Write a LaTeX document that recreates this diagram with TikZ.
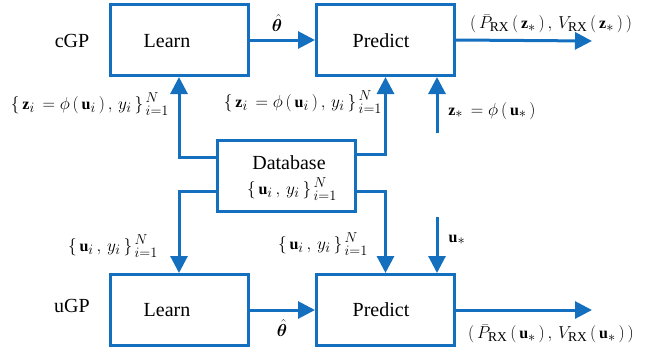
\documentclass[tikz,border=0pt]{standalone}
\usepackage{amsmath,bm}
\usepackage{fontspec}
\setmainfont{Liberation Serif}
\usetikzlibrary{arrows.meta}
\DeclareMathSizes{16}{16}{13.5}{11}
\definecolor{mblue}{RGB}{20,112,190}
\newcommand{\gp}{\mkern3mu}
\tikzset{
  box/.style={draw=mblue,line width=3pt,minimum width=138pt,minimum height=71pt,inner sep=0pt},
  word/.style={font=\fontsize{20}{24}\selectfont,inner sep=0pt},
  lab/.style={font=\fontsize{16}{19}\selectfont,inner sep=0pt},
  conn/.style={draw=mblue,line width=3pt,-{Triangle[length=17pt,width=17pt]}}
}
\begin{document}
\begin{tikzpicture}[x=1pt,y=-1pt]
\useasboundingbox (0,0) rectangle (657,354);
% boxes
\node[box] (l1) at (179,40) {};
\node[box] (p1) at (385.5,40) {};
\node[box] (db) at (286,175.5) {};
\node[box] (l2) at (179,310) {};
\node[box] (p2) at (385.5,310) {};
% box texts
\node[word] (tl1) at (167,41) {Learn};
\node[word] (tp1) at (381,41) {Predict};
\node[word] (tdb) at (289,163) {Database};
\node[lab] (tdb2) at (292,189) {$\{\gp\mathbf{u}_{i}\gp,\gp y_{i}\gp\}_{\gp i=1}^{\gp N}$};
\node[word] (tl2) at (167,310) {Learn};
\node[word] (tp2) at (381,310) {Predict};
\node[word] (cgp) at (72,41) {cGP};
\node[word] (ugp) at (72,306) {uGP};
% free ends
\coordinate (o1) at (592,41);
\coordinate (o2) at (592,310);
\coordinate (zs) at (437,133);
\coordinate (us) at (437,217);
% connectors
\draw[conn] (l1.east) -- (p1.west);
\draw[conn] (p1.east) -- (o1);
\draw[conn] ([yshift=18pt]db.west) -| (l1.south);
\draw[conn] ([yshift=21pt]db.east) -| (p1.south);
\draw[conn] (zs) -- (zs |- p1.south);
\draw[conn] ([yshift=-16pt]db.west) -| (l2.north);
\draw[conn] ([yshift=-16pt]db.east) -| (p2.north);
\draw[conn] (us) -- (us |- p2.north);
\draw[conn] (l2.east) -- (p2.west);
\draw[conn] (p2.east) -- (o2);
% labels
\node[lab] (th1) at (277,23) {$\hat{\bm\theta}$};
\node[lab] (out1) at (551,24) {$(\gp\bar{P}_{\mathrm{RX}}\gp(\gp\mathbf{z}_*\gp)\gp,\gp V_{\mathrm{RX}}\gp(\gp\mathbf{z}_*\gp)\gp)$};
\node[lab] (zl) at (90,104) {$\{\gp\mathbf{z}_{i}\gp=\phi\gp(\gp\mathbf{u}_{i}\gp)\gp,\gp y_{i}\gp\}_{\gp i=1}^{\gp N}$};
\node[lab] (zr) at (303,102) {$\{\gp\mathbf{z}_{i}\gp=\phi\gp(\gp\mathbf{u}_{i}\gp)\gp,\gp y_{i}\gp\}_{\gp i=1}^{\gp N}$};
\node[lab] (zsl) at (492,111) {$\mathbf{z}_*\gp=\phi\gp(\gp\mathbf{u}_*\gp)$};
\node[lab] (ul) at (113,246) {$\{\gp\mathbf{u}_{i}\gp,\gp y_{i}\gp\}_{\gp i=1}^{\gp N}$};
\node[lab] (ur) at (323,244) {$\{\gp\mathbf{u}_{i}\gp,\gp y_{i}\gp\}_{\gp i=1}^{\gp N}$};
\node[lab] (usl) at (457,240) {$\mathbf{u}_*$};
\node[lab] (th2) at (282,328) {$\hat{\bm\theta}$};
\node[lab] (out2) at (551,334) {$(\gp\bar{P}_{\mathrm{RX}}\gp(\gp\mathbf{u}_*\gp)\gp,\gp V_{\mathrm{RX}}\gp(\gp\mathbf{u}_*\gp)\gp)$};
\end{tikzpicture}
\end{document}
